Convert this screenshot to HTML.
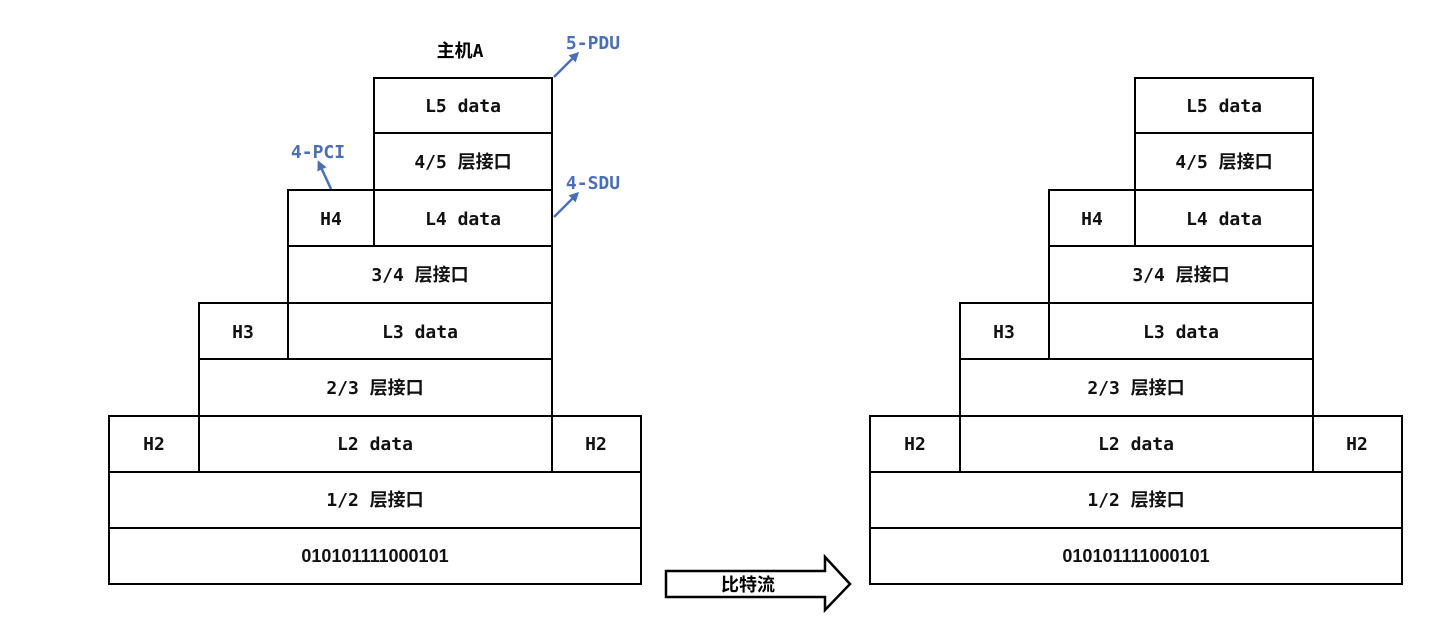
<!DOCTYPE html>
<html><head><meta charset="utf-8"><style>
html,body{margin:0;padding:0;background:#fff;}
svg text{font-family:"DejaVu Sans Mono","Noto Sans CJK SC",monospace;font-weight:bold;font-size:18px;}
</style></head><body>
<svg width="1430" height="617" viewBox="0 0 1430 617" xmlns="http://www.w3.org/2000/svg">
<defs>
<marker id="ah" markerWidth="10" markerHeight="10" refX="7" refY="5" orient="auto" markerUnits="userSpaceOnUse" viewBox="0 0 10 10"><path d="M0,0 L10,5 L0,10 z" fill="#4a6fb5"/></marker>
<g id="stack" fill="none" stroke="#000" stroke-width="2">
<rect x="374" y="78" width="178" height="55"/>
<rect x="374" y="133" width="178" height="57"/>
<rect x="288" y="190" width="86" height="56"/>
<rect x="374" y="190" width="178" height="56"/>
<rect x="288" y="246" width="264" height="57"/>
<rect x="199" y="303" width="89" height="56"/>
<rect x="288" y="303" width="264" height="56"/>
<rect x="199" y="359" width="353" height="57"/>
<rect x="109" y="416" width="90" height="56"/>
<rect x="199" y="416" width="353" height="56"/>
<rect x="552" y="416" width="89" height="56"/>
<rect x="109" y="472" width="532" height="56"/>
<rect x="109" y="528" width="532" height="56"/>
</g>
<g id="labels" text-anchor="middle" fill="#111">
<text x="463" y="112">L5 data</text>
<text x="463" y="168">4/5 层接口</text>
<text x="331" y="225">H4</text>
<text x="463" y="225">L4 data</text>
<text x="420" y="281">3/4 层接口</text>
<text x="243" y="338">H3</text>
<text x="420" y="338">L3 data</text>
<text x="375" y="394">2/3 层接口</text>
<text x="154" y="450">H2</text>
<text x="375" y="450">L2 data</text>
<text x="596" y="450">H2</text>
<text x="375" y="506">1/2 层接口</text>
<text x="375" y="562" style="font-family:'Liberation Sans',sans-serif;font-size:18px">010101111000101</text>
</g>
</defs>
<use href="#stack"/><use href="#labels"/>
<g transform="translate(761,0)"><use href="#stack"/><use href="#labels"/></g>
<text x="460" y="57" text-anchor="middle">主机A</text>
<g fill="#4a6fb5" stroke="none">
<text x="593" y="49" text-anchor="middle" fill="#4a6fb5">5-PDU</text>
<text x="318" y="158" text-anchor="middle" fill="#4a6fb5">4-PCI</text>
<text x="593" y="189" text-anchor="middle" fill="#4a6fb5">4-SDU</text>
</g>
<g stroke="#4a6fb5" stroke-width="2.5" fill="none">
<line x1="554" y1="77" x2="577" y2="54" marker-end="url(#ah)"/>
<line x1="331" y1="189" x2="319" y2="163" marker-end="url(#ah)"/>
<line x1="554" y1="217" x2="577" y2="194" marker-end="url(#ah)"/>
</g>
<path d="M666,571 L825,571 L825,557 L850,584 L825,610 L825,597 L666,597 Z" fill="#fff" stroke="#000" stroke-width="2.5"/>
<text x="748" y="591" text-anchor="middle">比特流</text>
</svg>
</body></html>
